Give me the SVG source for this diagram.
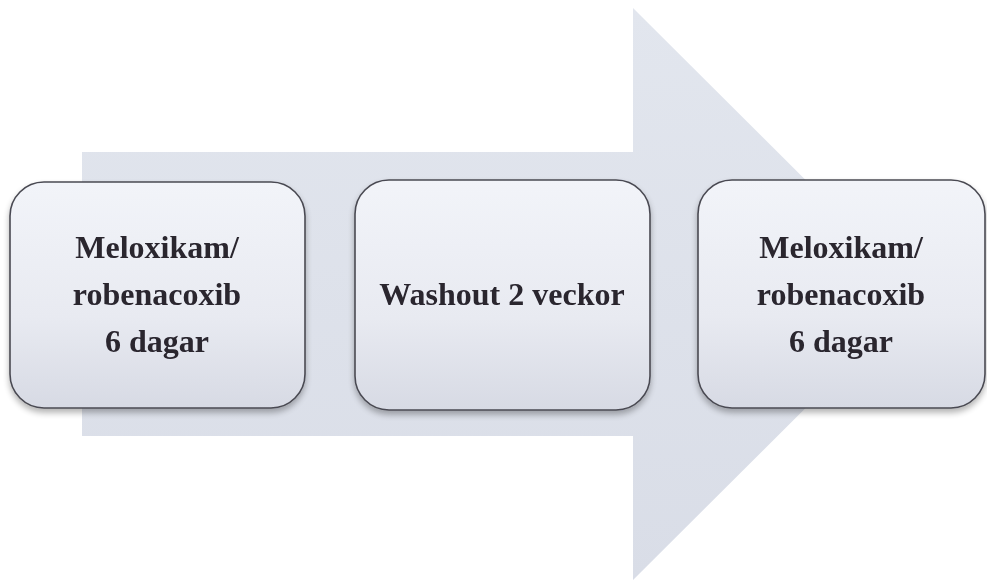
<svg xmlns="http://www.w3.org/2000/svg" width="987" height="582" viewBox="0 0 987 582">
  <defs>
    <linearGradient id="arrowGrad" x1="0" y1="0" x2="0" y2="1">
      <stop offset="0" stop-color="#e2e6ee"/>
      <stop offset="1" stop-color="#d9dde7"/>
    </linearGradient>
    <linearGradient id="boxGrad" x1="0" y1="0" x2="0" y2="1">
      <stop offset="0" stop-color="#f2f4f9"/>
      <stop offset="0.6" stop-color="#e8eaf1"/>
      <stop offset="1" stop-color="#d7dae4"/>
    </linearGradient>
    <filter id="shadow" x="-10%" y="-10%" width="120%" height="130%">
      <feGaussianBlur in="SourceAlpha" stdDeviation="3"/>
      <feOffset dx="0" dy="4" result="b"/>
      <feComponentTransfer><feFuncA type="linear" slope="0.3"/></feComponentTransfer>
      <feMerge><feMergeNode/><feMergeNode in="SourceGraphic"/></feMerge>
    </filter>
  </defs>
  <style>
    .box { fill: url(#boxGrad); stroke: #4a4a52; stroke-width: 1.6; }
    .lbl { font-family: "Liberation Serif", "Times New Roman", serif; font-weight: bold; font-size: 32px; fill: #29252f; text-anchor: middle; }
  </style>
  <rect width="987" height="582" fill="#ffffff"/>
  <g id="arrow">
    <path d="M82,152 L633,152 L633,8 L920,294 L633,580 L633,436 L82,436 Z" fill="url(#arrowGrad)"/>
  </g>
  <g id="connectors"/>
  <g id="node1" filter="url(#shadow)">
    <rect class="box" x="10" y="182" width="295" height="226" rx="34" ry="34"/>
    <text class="lbl" x="157" y="258">Meloxikam/</text>
    <text class="lbl" x="157" y="305">robenacoxib</text>
    <text class="lbl" x="157" y="352">6 dagar</text>
  </g>
  <g id="node2" filter="url(#shadow)">
    <rect class="box" x="355" y="180" width="295" height="230" rx="34" ry="34"/>
    <text class="lbl" x="502" y="305">Washout 2 veckor</text>
  </g>
  <g id="node3" filter="url(#shadow)">
    <rect class="box" x="698" y="180" width="287" height="228" rx="34" ry="34"/>
    <text class="lbl" x="841" y="258">Meloxikam/</text>
    <text class="lbl" x="841" y="305">robenacoxib</text>
    <text class="lbl" x="841" y="352">6 dagar</text>
  </g>
</svg>
